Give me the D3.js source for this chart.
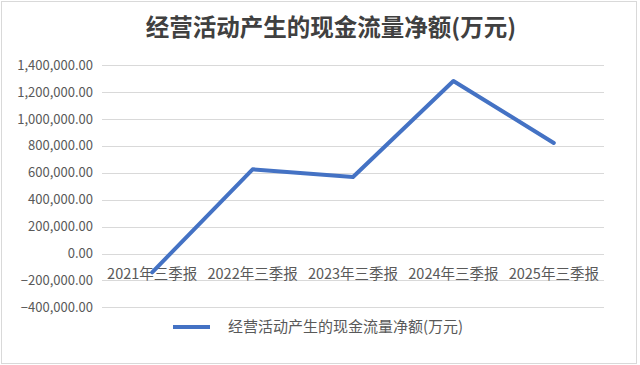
<!DOCTYPE html>
<html>
<head>
<meta charset="utf-8">
<script src="https://cdn.jsdelivr.net/npm/d3@7"></script>
<style>
  body { margin: 0; background: #fff; }
  text { font-family: "Microsoft YaHei", "Noto Sans CJK SC", "Noto Sans", sans-serif; }
</style>
</head>
<body>
<div id="chart"></div>
<script>
var categories = ["2021年三季报", "2022年三季报", "2023年三季报", "2024年三季报", "2025年三季报"];
var values = [-140000, 626000, 569000, 1282000, 822000];
var yTicks = [-400000, -200000, 0, 200000, 400000, 600000, 800000, 1000000, 1200000, 1400000];
var seriesName = "经营活动产生的现金流量净额(万元)";
var titleText = "经营活动产生的现金流量净额(万元)";

var svgWidth = 640;
var svgHeight = 365;

var svg = d3.select("#chart")
  .append("svg")
  .attr("width", svgWidth)
  .attr("height", svgHeight);

// chart border
svg.append("rect")
  .attr("x", 1.5)
  .attr("y", 1.5)
  .attr("width", 635)
  .attr("height", 362)
  .attr("fill", "#fff")
  .attr("stroke", "#d9d9d9");

var xScale = d3.scaleBand()
  .domain(categories)
  .range([102, 604]);

var yScale = d3.scaleLinear()
  .domain([-400000, 1400000])
  .range([307.3, 65.2]);

// gridlines
svg.append("g")
  .selectAll("line")
  .data(yTicks)
  .enter()
  .append("line")
  .attr("x1", 102)
  .attr("x2", 604)
  .attr("y1", d => Math.round(yScale(d)) + 0.5)
  .attr("y2", d => Math.round(yScale(d)) + 0.5)
  .attr("stroke", "#d9d9d9")
  .attr("stroke-width", 1);

// y labels
var fmt = d3.format(",.2f");
svg.append("g")
  .selectAll("text")
  .data(yTicks)
  .enter()
  .append("text")
  .attr("x", 93)
  .attr("y", d => yScale(d))
  .attr("dy", "0.35em")
  .attr("text-anchor", "end")
  .attr("font-size", "13px")
  .attr("fill", "#595959")
  .text(d => fmt(d));

// x labels sit next to zero line
svg.append("g")
  .selectAll("text")
  .data(categories)
  .enter()
  .append("text")
  .attr("x", d => xScale(d) + xScale.bandwidth() / 2)
  .attr("y", yScale(0) + 25)
  .attr("text-anchor", "middle")
  .attr("font-size", "14.5px")
  .attr("fill", "#595959")
  .text(d => d);

var line = d3.line()
  .x((d, i) => xScale(categories[i]) + xScale.bandwidth() / 2)
  .y(d => yScale(d));

svg.append("path")
  .datum(values)
  .attr("d", line)
  .attr("fill", "none")
  .attr("stroke", "#4472c4")
  .attr("stroke-width", 4)
  .attr("stroke-linejoin", "round")
  .attr("stroke-linecap", "round");

// title
svg.append("text")
  .attr("x", 331)
  .attr("y", 36)
  .attr("text-anchor", "middle")
  .attr("font-size", "23.5px")
  .attr("font-weight", "bold")
  .attr("fill", "#404040")
  .text(titleText);

// legend
svg.append("line")
  .attr("x1", 173)
  .attr("x2", 210)
  .attr("y1", 327)
  .attr("y2", 327)
  .attr("stroke", "#4472c4")
  .attr("stroke-width", 4);

svg.append("text")
  .attr("x", 228)
  .attr("y", 327)
  .attr("dy", "0.35em")
  .attr("font-size", "15px")
  .attr("fill", "#595959")
  .text(seriesName);
</script>
</body>
</html>
